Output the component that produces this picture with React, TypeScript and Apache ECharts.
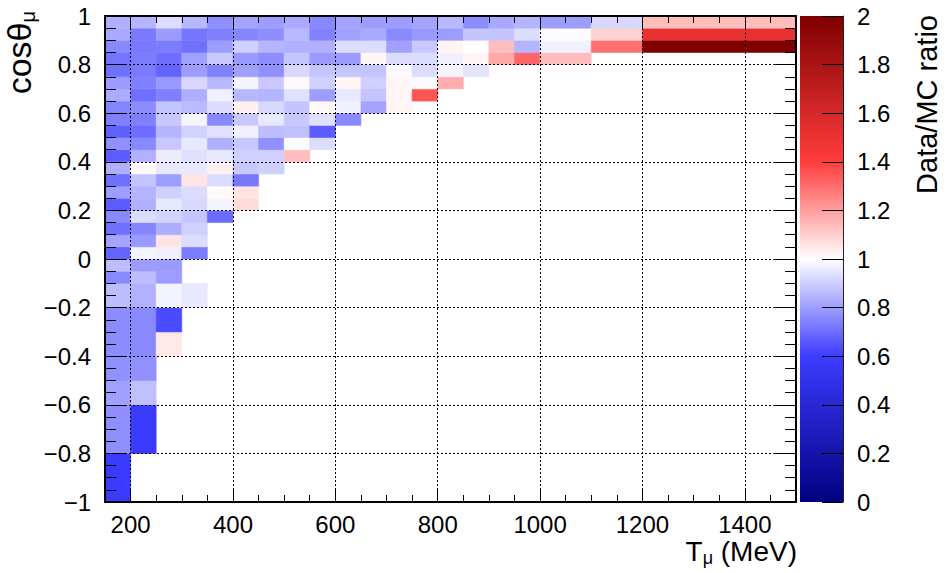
import React, { useEffect, useRef } from "react";
import * as echarts from "echarts";

// Muon kinetic energy bin edges (MeV)
const tEdges = [150, 200, 250, 300, 350, 400, 450, 500, 550, 600, 650, 700, 750, 800, 850, 900, 950, 1000, 1100, 1200, 1500];

// Muon cos(theta) bin edges, bottom to top
const cosEdges = [-1, -0.8, -0.6, -0.5, -0.4, -0.3, -0.2, -0.1, -0.05, 0, 0.05, 0.1, 0.15, 0.2, 0.25, 0.3, 0.35, 0.4, 0.45, 0.5, 0.55, 0.6, 0.65, 0.7, 0.75, 0.8, 0.85, 0.9, 0.95, 1];

// Data/MC ratio per cos(theta) slice, one entry per energy bin starting at 150 MeV
const row_m100 = [0.59];
const row_m080 = [0.77, 0.59];
const row_m060 = [0.805, 0.871];
const row_m050 = [0.772, 0.772];
const row_m040 = [0.764, 0.756, 1.047];
const row_m030 = [0.764, 0.756, 0.629];
const row_m020 = [0.863, 0.838, 0.977, 0.953];
const row_m010 = [0.756, 0.863, 0.797];
const row_m005 = [0.863, 0.797, 0.793];
const row_p000 = [0.682, 0.977, 0.969, 0.731];
const row_p005 = [0.813, 0.789, 1.055, 0.928];
const row_p010 = [0.707, 0.748, 0.834, 0.904];
const row_p015 = [0.756, 0.928, 0.912, 0.879, 0.698];
const row_p020 = [0.666, 0.838, 0.953, 0.92, 0.977, 1.072];
const row_p025 = [0.797, 0.846, 0.904, 0.928, 1.01, 1.055];
const row_p030 = [0.707, 0.879, 0.797, 1.055, 0.928, 0.723];
const row_p035 = [0.838, 1.01, 0.953, 0.953, 1.03, 0.887, 0.904];
const row_p040 = [0.666, 0.838, 0.961, 0.936, 0.953, 0.904, 0.904, 1.137];
const row_p045 = [0.772, 0.756, 0.887, 0.953, 0.838, 0.887, 0.772, 0.994, 0.928];
const row_p050 = [0.674, 0.7, 0.846, 0.908, 0.936, 0.969, 0.867, 0.871, 0.666];
const row_p055 = [0.739, 0.739, 0.887, 0.977, 0.756, 0.887, 0.953, 0.887, 0.936, 0.756];
const row_p060 = [0.748, 0.764, 0.879, 0.858, 0.928, 1.03, 0.92, 0.879, 1.014, 0.969, 0.813, 1.02];
const row_p065 = [0.826, 0.707, 0.739, 0.834, 0.969, 0.854, 0.846, 0.936, 0.797, 0.953, 0.879, 1.02, 1.35];
const row_p070 = [0.797, 0.739, 0.789, 0.92, 0.854, 0.977, 0.887, 1.014, 0.904, 1.02, 0.904, 1.02, 0.99, 1.17];
const row_p075 = [0.707, 0.727, 0.68, 0.797, 0.743, 0.805, 0.772, 0.92, 0.883, 0.879, 0.879, 0.99, 0.928, 0.977, 0.944];
const row_p080 = [0.715, 0.731, 0.703, 0.805, 0.887, 0.789, 0.768, 0.879, 0.793, 0.793, 1.02, 0.928, 0.928, 0.969, 1.02, 1.178, 1.314, 1.137];
const row_p085 = [0.756, 0.723, 0.731, 0.707, 0.797, 0.904, 0.846, 0.838, 0.838, 0.928, 0.928, 0.805, 0.887, 1.02, 1.0, 1.137, 0.846, 0.969, 1.293, 2.0];
const row_p090 = [0.822, 0.725, 0.793, 0.719, 0.739, 0.752, 0.768, 0.854, 0.743, 0.805, 0.822, 0.76, 0.789, 0.797, 0.883, 0.879, 0.928, 0.994, 1.096, 1.51];
const row_p095 = [0.838, 0.846, 0.928, 0.854, 0.768, 0.813, 0.797, 0.822, 0.756, 0.813, 0.797, 0.797, 0.813, 0.854, 0.764, 0.822, 0.846, 0.797, 0.92, 1.137];

const ratioRows = [
  row_m100, row_m080, row_m060, row_m050, row_m040, row_m030, row_m020, row_m010, row_m005,
  row_p000, row_p005, row_p010, row_p015, row_p020, row_p025, row_p030, row_p035, row_p040,
  row_p045, row_p050, row_p055, row_p060, row_p065, row_p070, row_p075, row_p080, row_p085,
  row_p090, row_p095,
];

// Axis ticks
const tMajorTicks = [200, 400, 600, 800, 1000, 1200, 1400];
const tRange = [150, 1500];
const cosRange = [-1, 1];
const ratioRange = [0, 2];

const FONT = "'Liberation Sans', Arial, Helvetica, sans-serif";

// Blue-white-red palette: fraction of the ratio range -> rgb
const paletteStops: [number, number[]][] = [
  [0, [0, 0, 128]],
  [0.3, [60, 60, 255]],
  [0.5, [255, 255, 255]],
  [0.7, [255, 60, 60]],
  [1, [128, 0, 0]],
];

function paletteAt(f: number): string {
  for (let k = 1; k < paletteStops.length; k++) {
    const [f1, c1] = paletteStops[k];
    const [f0, c0] = paletteStops[k - 1];
    if (f <= f1 + 1e-9) {
      const u = (f - f0) / (f1 - f0);
      const c = c0.map((v, i) => Math.round(v + (c1[i] - v) * u));
      return `rgb(${c[0]},${c[1]},${c[2]})`;
    }
  }
  return "rgb(128,0,0)";
}

const palette: string[] = [];
for (let i = 0; i <= 10; i++) palette.push(paletteAt(i / 10));

function buildCells() {
  const cells: number[][] = [];
  ratioRows.forEach((row, i) => {
    row.forEach((r, j) => {
      if (r === null || r === undefined) return;
      cells.push([tEdges[j], tEdges[j + 1], cosEdges[i], cosEdges[i + 1], r]);
    });
  });
  return cells;
}

const fmtNum = (v: number) => String(+v.toFixed(2)).replace("-", "\u2212");

export default function App() {
  const ref = useRef<HTMLDivElement>(null);

  useEffect(() => {
    if (!ref.current) return;
    const chart = echarts.init(ref.current, undefined, { renderer: "svg" });

    const dotted = { color: "#000", width: 1, type: [2, 2] as any };
    const frameLine = { show: true, onZero: false, lineStyle: { color: "#000", width: 2 } };
    const labelStyle = { color: "#000", fontSize: 24, fontFamily: FONT };
    const titleRich = (big: number, small: number) => ({
      a: { fontSize: big, fontFamily: FONT, fill: "#000", color: "#000", lineHeight: big + 2, verticalAlign: "top" },
      b: { fontSize: small, fontFamily: FONT, fill: "#000", color: "#000", lineHeight: small, padding: [14, 0, 0, 0], verticalAlign: "bottom" },
    });

    const option: any = {
      animation: false,
      backgroundColor: "#fff",
      grid: [
        { left: 105, top: 16, width: 691, height: 486, show: false },
        { left: 800, top: 16, width: 43, height: 486, show: false },
      ],
      xAxis: [
        {
          gridIndex: 0, type: "value", min: tRange[0], max: tRange[1], position: "bottom", z: 3,
          axisLine: frameLine,
          axisTick: { show: true, inside: true, length: 14, customValues: tMajorTicks, lineStyle: { color: "#000", width: 1 } },
          axisLabel: { show: true, customValues: tMajorTicks, margin: 10, formatter: (v: number) => String(v), ...labelStyle },
          splitLine: { show: true, lineStyle: dotted },
        },
        {
          gridIndex: 0, type: "value", min: tRange[0], max: tRange[1], interval: 50, position: "bottom", z: 3,
          axisLine: { show: false, onZero: false },
          axisTick: { show: true, inside: true, length: 7, lineStyle: { color: "#000", width: 1 } },
          axisLabel: { show: false },
          splitLine: { show: false },
        },
        {
          gridIndex: 0, type: "value", min: tRange[0], max: tRange[1], position: "top", z: 3,
          axisLine: frameLine,
          axisTick: { show: true, inside: true, length: 14, customValues: tMajorTicks, lineStyle: { color: "#000", width: 1 } },
          axisLabel: { show: false },
          splitLine: { show: false },
        },
        {
          gridIndex: 0, type: "value", min: tRange[0], max: tRange[1], interval: 50, position: "top", z: 3,
          axisLine: { show: false, onZero: false },
          axisTick: { show: true, inside: true, length: 7, lineStyle: { color: "#000", width: 1 } },
          axisLabel: { show: false },
          splitLine: { show: false },
        },
        {
          gridIndex: 1, type: "value", min: 0, max: 1, show: false,
        },
      ],
      yAxis: [
        {
          gridIndex: 0, type: "value", min: cosRange[0], max: cosRange[1], interval: 0.2, position: "left", z: 3,
          axisLine: frameLine,
          axisTick: { show: true, inside: true, length: 21, lineStyle: { color: "#000", width: 1 } },
          minorTick: { show: true, splitNumber: 4, length: 11, lineStyle: { color: "#000", width: 1 } },
          axisLabel: { show: true, margin: 14, formatter: fmtNum, ...labelStyle },
          splitLine: { show: true, lineStyle: dotted },
        },
        {
          gridIndex: 0, type: "value", min: cosRange[0], max: cosRange[1], interval: 0.2, position: "right", z: 3,
          axisLine: frameLine,
          axisTick: { show: true, inside: true, length: 21, lineStyle: { color: "#000", width: 1 } },
          minorTick: { show: true, splitNumber: 4, length: 11, lineStyle: { color: "#000", width: 1 } },
          axisLabel: { show: false },
          splitLine: { show: false },
        },
        {
          gridIndex: 1, type: "value", min: ratioRange[0], max: ratioRange[1], interval: 0.2, position: "right", z: 3,
          axisLine: { show: true, onZero: false, lineStyle: { color: "#222", width: 1 } },
          axisTick: { show: true, inside: true, length: 21, lineStyle: { color: "#000", width: 1 } },
          axisLabel: { show: true, margin: 14, formatter: fmtNum, ...labelStyle },
          splitLine: { show: false },
        },
      ],
      visualMap: {
        type: "continuous", show: false, min: ratioRange[0], max: ratioRange[1],
        dimension: 4, seriesIndex: 0, inRange: { color: palette },
      },
      graphic: [
        {
          type: "text", x: 20, y: 11, rotation: Math.PI / 2, z: 10,
          style: {
            text: "{a|cos\u03b8}{b|\u03bc}",
            align: "right", textAlign: "right", verticalAlign: "middle", textVerticalAlign: "middle",
            rich: titleRich(34, 20),
          },
        },
        {
          type: "text", x: 797, y: 552, z: 10,
          style: {
            text: "{a|T}{b|\u03bc}{a| (MeV)}",
            align: "right", textAlign: "right", verticalAlign: "middle", textVerticalAlign: "middle",
            rich: titleRich(28, 18),
          },
        },
        {
          type: "text", x: 927, y: 15, rotation: Math.PI / 2, z: 10,
          style: {
            text: "Data/MC ratio",
            font: `29px ${FONT}`, fontSize: 29, fontFamily: FONT, fill: "#000",
            align: "right", textAlign: "right", verticalAlign: "middle", textVerticalAlign: "middle",
          },
        },
      ],
      series: [
        {
          type: "custom",
          name: "Data/MC",
          xAxisIndex: 0,
          yAxisIndex: 0,
          z: 2,
          dimensions: ["tLow", "tHigh", "cosLow", "cosHigh", "ratio"],
          encode: { x: [0, 1], y: [2, 3] },
          data: buildCells(),
          renderItem: (params: any, api: any) => {
            const tl = api.coord([api.value(0), api.value(3)]);
            const br = api.coord([api.value(1), api.value(2)]);
            const color = api.visual("color");
            return {
              type: "rect",
              shape: { x: tl[0], y: tl[1], width: br[0] - tl[0], height: br[1] - tl[1] },
              style: { fill: color, stroke: color, lineWidth: 0.6 },
            };
          },
        },
        {
          type: "custom",
          name: "palette",
          xAxisIndex: 4,
          yAxisIndex: 2,
          z: 2,
          silent: true,
          data: [[0, ratioRange[0], 1, ratioRange[1]]],
          encode: { x: [0, 2], y: [1, 3] },
          renderItem: (params: any, api: any) => {
            const tl = api.coord([api.value(0), api.value(3)]);
            const br = api.coord([api.value(2), api.value(1)]);
            return {
              type: "rect",
              shape: { x: tl[0], y: tl[1], width: br[0] - tl[0], height: br[1] - tl[1] },
              style: {
                fill: new echarts.graphic.LinearGradient(
                  0, 1, 0, 0,
                  palette.map((c, i) => ({ offset: i / (palette.length - 1), color: c }))
                ),
              },
            };
          },
        },
      ],
    };

    chart.setOption(option);
    return () => chart.dispose();
  }, []);

  return (
    <div
      ref={ref}
      style={{ position: "fixed", left: 0, top: 0, width: 947, height: 573, background: "#fff" }}
    />
  );
}
